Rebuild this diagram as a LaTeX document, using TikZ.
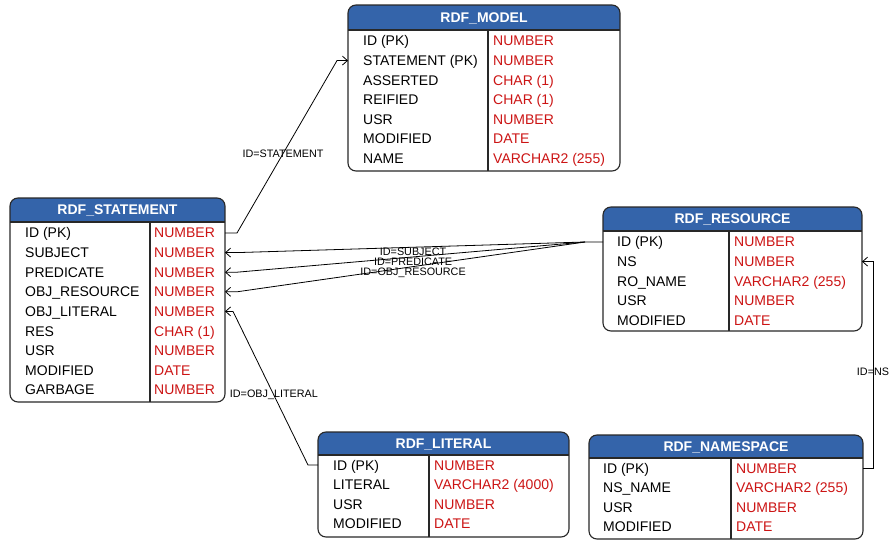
\documentclass[tikz,border=0pt]{standalone}
\usepackage{fontspec}
\setmainfont{Liberation Sans}
\usetikzlibrary{arrows.meta,fit,calc}

\definecolor{hdrblue}{RGB}{52,100,170}
\definecolor{typered}{RGB}{204,20,20}
\definecolor{framegray}{RGB}{40,40,40}

\tikzset{
  tableframe/.style={draw=framegray, line width=1.1pt},
  hdrtitle/.style={text=white, inner sep=0pt, text height=10pt, text depth=0pt,
                   font=\fontsize{14}{14}\selectfont\bfseries},
  fieldname/.style={anchor=west, inner sep=0pt, text height=10pt, text depth=0pt,
                    font=\fontsize{14}{14}\selectfont},
  fieldtype/.style={fieldname, text=typered},
  relation/.style={draw=black, line width=0.8pt, -{Straight Barb[length=5pt,width=9pt]}},
  rellabel/.style={inner sep=0pt, font=\fontsize{10.8}{11}\selectfont},
}

% table frame: name, left, top, right, bottom, header bottom, column divider, title
\newcommand\erdtable[8]{%
  \node[inner sep=0pt, outer sep=0pt, fit={(#2,#3) (#4,#5)}] (#1) {};
  \begin{scope}
    \clip[rounded corners=8pt] (#1.north west) rectangle (#1.south east);
    \fill[hdrblue] (#1.north west) rectangle (#4,#6);
  \end{scope}
  \draw[tableframe, rounded corners=8pt] (#1.north west) rectangle (#1.south east);
  \draw[tableframe] (#2,#6) -- (#4,#6);
  \draw[tableframe] (#7,#6) -- (#7,#5);
  \node[hdrtitle] (#1-title) at ({(#2+#4)/2},{(#3+#6)/2}) {#8};
}

% table rows: name, column x, type x, first row y, list of column/type
\newcommand\erdrows[5]{%
  \foreach [count=\i] \fn/\ft in {#5} {
    \node[fieldname] (#1-n\i) at (#2,{#4+(\i-1)*19.6}) {\fn};
    \node[fieldtype] (#1-t\i) at (#3,{#4+(\i-1)*19.6}) {\ft};
  }%
}

\begin{document}
\begin{tikzpicture}[x=1pt, y=-1pt]
  \fill[white] (0,0) rectangle (889,540);
  \useasboundingbox (0,0) rectangle (889,540);

  % tables
  \erdtable{model}{348}{5}{620}{171}{30}{488}{RDF\_MODEL}
  \erdrows{model}{363}{493}{41}{ID (PK)/NUMBER, STATEMENT (PK)/NUMBER, ASSERTED/CHAR (1),
    REIFIED/CHAR (1), USR/NUMBER, MODIFIED/DATE, NAME/VARCHAR2 (255)}

  \erdtable{stmt}{10}{198}{225}{402}{222}{150}{RDF\_STATEMENT}
  \erdrows{stmt}{25}{154}{233}{ID (PK)/NUMBER, SUBJECT/NUMBER, PREDICATE/NUMBER,
    OBJ\_RESOURCE/NUMBER, OBJ\_LITERAL/NUMBER, RES/CHAR (1), USR/NUMBER,
    MODIFIED/DATE, GARBAGE/NUMBER}

  \erdtable{res}{603}{207}{862}{331}{231}{729}{RDF\_RESOURCE}
  \erdrows{res}{617}{734}{242}{ID (PK)/NUMBER, NS/NUMBER, RO\_NAME/VARCHAR2 (255),
    USR/NUMBER, MODIFIED/DATE}

  \erdtable{lit}{318}{432}{569}{537}{455}{429}{RDF\_LITERAL}
  \erdrows{lit}{333}{434}{465}{ID (PK)/NUMBER, LITERAL/VARCHAR2 (4000), USR/NUMBER,
    MODIFIED/DATE}

  \erdtable{ns}{589}{435}{863}{539}{458}{731}{RDF\_NAMESPACE}
  \erdrows{ns}{603}{736}{468}{ID (PK)/NUMBER, NS\_NAME/VARCHAR2 (255), USR/NUMBER,
    MODIFIED/DATE}

  % relations
  \draw[relation] (stmt.east |- stmt-n1) -- ++(12,0)
    -- node[rellabel, pos=0.46] {ID=STATEMENT} ($(model.west |- model-n2)+(-11,0)$)
    -- (model.west |- model-n2);

  \coordinate (fan) at ($(res.west |- res-n1)+(-18,0)$);
  \draw[relation] (res.west |- res-n1) -- (fan)
    -- node[rellabel, pos=0.494, yshift=-5pt] {ID=SUBJECT} ($(stmt.east |- stmt-n2)+(12,0)$)
    -- (stmt.east |- stmt-n2);
  \draw[relation] (fan)
    -- node[rellabel, pos=0.494, yshift=-5pt] {ID=PREDICATE} ($(stmt.east |- stmt-n3)+(12,0)$)
    -- (stmt.east |- stmt-n3);
  \draw[relation] (fan)
    -- node[rellabel, pos=0.494, yshift=-6pt] {ID=OBJ\_RESOURCE} ($(stmt.east |- stmt-n4)+(12,0)$)
    -- (stmt.east |- stmt-n4);

  \draw[relation] (lit.west |- lit-n1) -- ++(-10,0)
    -- node[rellabel, pos=0.455] {ID=OBJ\_LITERAL} ($(stmt.east |- stmt-n5)+(8,0)$)
    -- (stmt.east |- stmt-n5);

  \draw[relation] (ns.east |- ns-n1) -- ++(10,0)
    -- node[rellabel, pos=0.464] {ID=NS} ($(res.east |- res-n2)+(11,0)$)
    -- (res.east |- res-n2);
\end{tikzpicture}
\end{document}
